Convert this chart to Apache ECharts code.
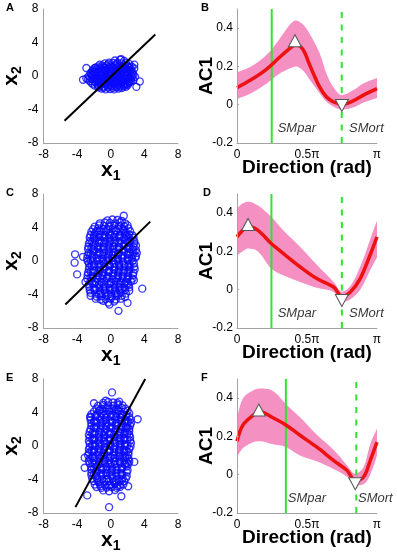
<!DOCTYPE html>
<html>
<head>
<meta charset="utf-8">
<script src="https://cdn.jsdelivr.net/npm/echarts/dist/echarts.min.js"></script>
<style>
  html, body { margin: 0; padding: 0; background: #fff; }
  #chart { width: 397px; height: 557px; }
</style>
</head>
<body>
<div id="chart"></div>
<script>
// ---- scatter clouds (x1, x2) ----
const cloudA = [
  [0.5,1.85],[1.1,1.95],[1.6,1.8],
  [-0.7,1.5],[-0.2,1.6],[0.3,1.55],[0.8,1.6],[1.3,1.5],[1.8,1.55],[2.2,1.45],
  [-1.5,1.15],[-1.0,1.25],[-0.5,1.2],[0.0,1.15],[0.5,1.25],[1.0,1.2],[1.5,1.1],[2.0,1.2],[2.5,1.1],
  [-1.8,1.0],[-1.25,0.95],[-0.75,1.0],[-0.25,1.05],[0.25,0.95],[0.75,1.0],[1.25,1.05],[1.75,0.95],[2.25,1.0],
  [-2.1,0.75],[-1.6,0.85],[-1.1,0.8],[-0.6,0.75],[-0.1,0.85],[0.4,0.8],[0.9,0.75],[1.4,0.85],[1.9,0.8],[2.4,0.75],[2.8,0.9],
  [-2.2,0.6],[-1.65,0.55],[-1.15,0.65],[-0.65,0.6],[-0.15,0.55],[0.35,0.65],[0.85,0.6],[1.35,0.55],[1.85,0.65],[2.35,0.6],
  [-2.4,0.35],[-1.9,0.45],[-1.4,0.4],[-0.9,0.35],[-0.4,0.45],[0.1,0.4],[0.6,0.35],[1.1,0.45],[1.6,0.4],[2.1,0.35],[2.6,0.45],
  [-2.3,0.2],[-1.85,0.25],[-1.35,0.15],[-0.85,0.2],[-0.35,0.25],[0.15,0.15],[0.65,0.2],[1.15,0.25],[1.65,0.15],[2.15,0.2],[2.6,0.25],
  [-2.6,0.0],[-2.1,0.05],[-1.6,-0.05],[-1.1,0.0],[-0.6,0.05],[-0.1,-0.05],[0.4,0.0],[0.9,0.05],[1.4,-0.05],[1.9,0.0],[2.4,0.05],[2.9,-0.1],
  [-2.45,-0.2],[-1.95,-0.15],[-1.45,-0.25],[-0.95,-0.2],[-0.45,-0.15],[0.05,-0.25],[0.55,-0.2],[1.05,-0.15],[1.55,-0.25],[2.05,-0.2],[2.5,-0.15],
  [-2.7,-0.4],[-2.2,-0.35],[-1.7,-0.45],[-1.2,-0.4],[-0.7,-0.35],[-0.2,-0.45],[0.3,-0.4],[0.8,-0.35],[1.3,-0.45],[1.8,-0.4],[2.3,-0.35],[2.7,-0.5],
  [-2.5,-0.6],[-1.95,-0.6],[-1.45,-0.55],[-0.95,-0.65],[-0.45,-0.6],[0.05,-0.55],[0.55,-0.65],[1.05,-0.6],[1.55,-0.55],[2.05,-0.65],[2.45,-0.6],
  [-2.3,-0.8],[-1.8,-0.75],[-1.3,-0.85],[-0.8,-0.8],[-0.3,-0.75],[0.2,-0.85],[0.7,-0.8],[1.2,-0.75],[1.7,-0.85],[2.2,-0.8],
  [-2.1,-1.0],[-1.55,-1.05],[-1.05,-0.95],[-0.55,-1.0],[-0.05,-1.05],[0.45,-0.95],[0.95,-1.0],[1.45,-1.05],[1.95,-0.95],
  [-1.9,-1.15],[-1.4,-1.2],[-0.9,-1.25],[-0.4,-1.15],[0.1,-1.2],[0.6,-1.25],[1.1,-1.15],[1.6,-1.2],[2.0,-1.1],
  [-1.5,-1.35],[-0.85,-1.4],[-0.3,-1.35],[0.25,-1.4],[0.75,-1.35],[1.3,-1.3],[1.8,-1.3],
  [-1.1,-1.5],[-0.6,-1.6],[-0.1,-1.55],[0.4,-1.6],[0.9,-1.5],[1.3,-1.45],
  [-2.9,0.95],[-3.3,-0.45],[3.45,-0.65],[3.05,-1.3],[2.8,1.35],[1.25,2.0],[-2.9,-0.3]
];
const cloudC = [
  [-0.4,4.85],[0.2,4.95],[0.8,4.9],[1.3,4.8],
  [-1.3,4.5],[-0.7,4.6],[-0.1,4.55],[0.5,4.5],[1.1,4.6],[1.7,4.5],
  [-1.9,4.1],[-1.4,4.25],[-0.8,4.2],[-0.2,4.15],[0.4,4.25],[1.0,4.2],[1.6,4.15],[2.0,4.25],
  [-2.1,3.8],[-1.5,3.9],[-0.9,3.85],[-0.3,3.8],[0.3,3.9],[0.9,3.85],[1.5,3.8],[2.1,3.9],
  [-2.3,3.5],[-1.8,3.45],[-1.2,3.55],[-0.6,3.5],[0.0,3.45],[0.6,3.55],[1.2,3.5],[1.8,3.45],[2.3,3.55],
  [-2.4,3.1],[-1.9,3.2],[-1.3,3.15],[-0.7,3.1],[-0.1,3.2],[0.5,3.15],[1.1,3.1],[1.7,3.2],[2.2,3.15],[2.6,3.05],
  [-2.5,2.8],[-2.0,2.75],[-1.4,2.85],[-0.8,2.8],[-0.2,2.75],[0.4,2.85],[1.0,2.8],[1.6,2.75],[2.1,2.85],[2.7,2.8],
  [-2.45,2.4],[-1.85,2.5],[-1.25,2.45],[-0.65,2.4],[-0.05,2.5],[0.55,2.45],[1.15,2.4],[1.75,2.5],[2.3,2.45],[2.8,2.35],
  [-2.6,2.1],[-2.0,2.05],[-1.4,2.15],[-0.8,2.1],[-0.2,2.05],[0.4,2.15],[1.0,2.1],[1.6,2.05],[2.2,2.15],[2.8,2.1],
  [-2.65,1.7],[-2.05,1.8],[-1.45,1.75],[-0.85,1.7],[-0.25,1.8],[0.35,1.75],[0.95,1.7],[1.55,1.8],[2.15,1.75],[2.7,1.7],[3.0,1.85],
  [-2.7,1.4],[-2.1,1.35],[-1.5,1.45],[-0.9,1.4],[-0.3,1.35],[0.3,1.45],[0.9,1.4],[1.5,1.35],[2.1,1.45],[2.6,1.4],[3.0,1.3],
  [-2.6,1.0],[-2.0,1.1],[-1.4,1.05],[-0.8,1.0],[-0.2,1.1],[0.4,1.05],[1.0,1.0],[1.6,1.1],[2.2,1.05],[2.7,1.0],[3.1,0.95],
  [-2.75,0.7],[-2.15,0.65],[-1.55,0.75],[-0.95,0.7],[-0.35,0.65],[0.25,0.75],[0.85,0.7],[1.45,0.65],[2.05,0.75],[2.6,0.7],[3.0,0.6],
  [-2.8,0.3],[-2.2,0.4],[-1.6,0.35],[-1.0,0.3],[-0.4,0.4],[0.2,0.35],[0.8,0.3],[1.4,0.4],[2.0,0.35],[2.5,0.3],[2.95,0.4],
  [-2.75,0.0],[-2.15,-0.05],[-1.55,0.05],[-0.95,0.0],[-0.35,-0.05],[0.25,0.05],[0.85,0.0],[1.45,-0.05],[2.05,0.05],[2.6,0.0],
  [-2.6,-0.3],[-2.0,-0.4],[-1.4,-0.35],[-0.8,-0.3],[-0.2,-0.4],[0.4,-0.35],[1.0,-0.3],[1.6,-0.4],[2.2,-0.35],[2.75,-0.3],
  [-2.55,-0.7],[-1.95,-0.65],[-1.35,-0.75],[-0.75,-0.7],[-0.15,-0.65],[0.45,-0.75],[1.05,-0.7],[1.65,-0.65],[2.25,-0.75],[2.8,-0.7],
  [-2.6,-1.0],[-2.0,-1.1],[-1.4,-1.05],[-0.8,-1.0],[-0.2,-1.1],[0.4,-1.05],[1.0,-1.0],[1.6,-1.1],[2.2,-1.05],[2.85,-1.0],
  [-2.7,-1.4],[-2.1,-1.35],[-1.5,-1.45],[-0.9,-1.4],[-0.3,-1.35],[0.3,-1.45],[0.9,-1.4],[1.5,-1.35],[2.1,-1.45],[2.7,-1.4],
  [-2.75,-1.7],[-2.15,-1.8],[-1.55,-1.75],[-0.95,-1.7],[-0.35,-1.8],[0.25,-1.75],[0.85,-1.7],[1.45,-1.8],[2.05,-1.75],[2.65,-1.7],
  [-2.8,-2.1],[-2.2,-2.05],[-1.6,-2.15],[-1.0,-2.1],[-0.4,-2.05],[0.2,-2.15],[0.8,-2.1],[1.4,-2.05],[2.0,-2.15],[2.6,-2.1],
  [-3.0,-2.5],[-2.4,-2.4],[-1.8,-2.5],[-1.2,-2.45],[-0.6,-2.4],[0.0,-2.5],[0.6,-2.45],[1.2,-2.4],[1.8,-2.5],[2.4,-2.45],[2.75,-2.3],
  [-2.6,-2.8],[-2.0,-2.75],[-1.4,-2.85],[-0.8,-2.8],[-0.2,-2.75],[0.4,-2.85],[1.0,-2.8],[1.6,-2.75],[2.1,-2.9],
  [-2.55,-3.1],[-1.95,-3.2],[-1.35,-3.15],[-0.75,-3.1],[-0.15,-3.2],[0.45,-3.15],[1.05,-3.1],[1.65,-3.2],[2.2,-3.15],
  [-2.5,-3.5],[-1.9,-3.45],[-1.3,-3.55],[-0.7,-3.5],[-0.1,-3.45],[0.5,-3.55],[1.1,-3.5],[1.7,-3.45],[2.2,-3.55],
  [-2.4,-3.8],[-1.8,-3.9],[-1.2,-3.85],[-0.6,-3.8],[0.0,-3.9],[0.6,-3.85],[1.2,-3.8],[1.8,-3.9],
  [-2.4,-4.15],[-1.7,-4.25],[-1.1,-4.2],[-0.5,-4.15],[0.1,-4.25],[0.7,-4.2],[1.3,-4.15],[1.7,-4.3],
  [-1.8,-4.5],[-1.2,-4.6],[-0.6,-4.55],[0.0,-4.5],[0.6,-4.6],[1.2,-4.5],
  [-0.9,-4.75],[-0.3,-4.95],[-0.15,-5.2],[0.4,-4.85],
  [-4.25,0.8],[-4.3,-0.2],[-4.0,-1.6],[-3.3,0.5],[3.75,-3.3],[0.92,-5.95],[2.0,-5.0],[1.55,5.4]
];
const cloudE = [
  [-0.9,5.15],[-0.3,5.25],[0.3,5.2],[0.8,5.1],
  [-1.5,4.8],[-0.9,4.9],[-0.3,4.85],[0.3,4.8],[0.9,4.9],[1.4,4.85],
  [-1.7,4.5],[-1.1,4.45],[-0.5,4.55],[0.1,4.5],[0.7,4.45],[1.3,4.55],[1.75,4.45],
  [-2.0,4.1],[-1.4,4.2],[-0.8,4.15],[-0.2,4.1],[0.4,4.2],[1.0,4.15],[1.6,4.1],[2.0,4.2],
  [-2.3,3.8],[-1.7,3.75],[-1.1,3.85],[-0.5,3.8],[0.1,3.75],[0.7,3.85],[1.3,3.8],[1.9,3.75],[2.2,3.9],
  [-2.4,3.4],[-1.8,3.5],[-1.2,3.45],[-0.6,3.4],[0.0,3.5],[0.6,3.45],[1.2,3.4],[1.8,3.5],[2.2,3.45],
  [-2.4,3.1],[-1.85,3.05],[-1.25,3.15],[-0.65,3.1],[-0.05,3.05],[0.55,3.15],[1.15,3.1],[1.75,3.05],[2.35,3.15],
  [-2.3,2.7],[-1.7,2.8],[-1.1,2.75],[-0.5,2.7],[0.1,2.8],[0.7,2.75],[1.3,2.7],[1.9,2.8],[2.4,2.75],
  [-2.3,2.4],[-1.75,2.35],[-1.15,2.45],[-0.55,2.4],[0.05,2.35],[0.65,2.45],[1.25,2.4],[1.85,2.35],[2.3,2.45],
  [-2.4,2.0],[-1.8,2.1],[-1.2,2.05],[-0.6,2.0],[0.0,2.1],[0.6,2.05],[1.2,2.0],[1.8,2.1],[2.2,2.05],
  [-2.5,1.7],[-1.9,1.65],[-1.3,1.75],[-0.7,1.7],[-0.1,1.65],[0.5,1.75],[1.1,1.7],[1.7,1.65],[2.2,1.75],
  [-2.6,1.3],[-2.0,1.4],[-1.4,1.35],[-0.8,1.3],[-0.2,1.4],[0.4,1.35],[1.0,1.3],[1.6,1.4],[2.2,1.35],
  [-2.5,1.0],[-1.95,0.95],[-1.35,1.05],[-0.75,1.0],[-0.15,0.95],[0.45,1.05],[1.05,1.0],[1.65,0.95],[2.3,1.05],
  [-2.6,0.6],[-2.0,0.7],[-1.4,0.65],[-0.8,0.6],[-0.2,0.7],[0.4,0.65],[1.0,0.6],[1.6,0.7],[2.3,0.65],
  [-2.5,0.3],[-1.9,0.25],[-1.3,0.35],[-0.7,0.3],[-0.1,0.25],[0.5,0.35],[1.1,0.3],[1.7,0.25],[2.4,0.35],
  [-2.5,-0.1],[-1.9,0.0],[-1.3,-0.05],[-0.7,-0.1],[-0.1,0.0],[0.5,-0.05],[1.1,-0.1],[1.7,0.0],[2.35,-0.05],
  [-2.6,-0.4],[-2.0,-0.45],[-1.4,-0.35],[-0.8,-0.4],[-0.2,-0.45],[0.4,-0.35],[1.0,-0.4],[1.6,-0.45],[2.2,-0.35],
  [-2.6,-0.8],[-2.0,-0.7],[-1.4,-0.75],[-0.8,-0.8],[-0.2,-0.7],[0.4,-0.75],[1.0,-0.8],[1.6,-0.7],[2.1,-0.75],
  [-2.7,-1.1],[-2.1,-1.15],[-1.5,-1.05],[-0.9,-1.1],[-0.3,-1.15],[0.3,-1.05],[0.9,-1.1],[1.5,-1.15],[2.1,-1.05],
  [-2.5,-1.5],[-1.9,-1.4],[-1.3,-1.45],[-0.7,-1.5],[-0.1,-1.4],[0.5,-1.45],[1.1,-1.5],[1.7,-1.4],[2.1,-1.5],
  [-2.6,-1.8],[-2.0,-1.75],[-1.4,-1.85],[-0.8,-1.8],[-0.2,-1.75],[0.4,-1.85],[1.0,-1.8],[1.6,-1.75],[2.2,-1.85],
  [-2.5,-2.1],[-1.9,-2.2],[-1.3,-2.15],[-0.7,-2.1],[-0.1,-2.2],[0.5,-2.15],[1.1,-2.1],[1.7,-2.2],[2.1,-2.15],
  [-2.3,-2.5],[-1.7,-2.45],[-1.1,-2.55],[-0.5,-2.5],[0.1,-2.45],[0.7,-2.55],[1.3,-2.5],[1.9,-2.45],
  [-2.3,-2.8],[-1.7,-2.9],[-1.1,-2.85],[-0.5,-2.8],[0.1,-2.9],[0.7,-2.85],[1.3,-2.8],[2.0,-2.9],
  [-2.3,-3.2],[-1.75,-3.15],[-1.15,-3.25],[-0.55,-3.2],[0.05,-3.15],[0.65,-3.25],[1.25,-3.2],[1.9,-3.15],
  [-2.3,-3.5],[-1.7,-3.6],[-1.1,-3.55],[-0.5,-3.5],[0.1,-3.6],[0.7,-3.55],[1.3,-3.5],[1.9,-3.6],
  [-2.2,-3.9],[-1.6,-3.85],[-1.0,-3.95],[-0.4,-3.9],[0.2,-3.85],[0.8,-3.95],[1.4,-3.9],[1.8,-3.85],
  [-2.0,-4.2],[-1.4,-4.3],[-0.8,-4.25],[-0.2,-4.2],[0.4,-4.3],[1.0,-4.25],[1.6,-4.2],
  [-1.9,-4.6],[-1.3,-4.55],[-0.7,-4.65],[-0.1,-4.6],[0.5,-4.55],[1.1,-4.65],[1.5,-4.6],
  [-1.7,-4.9],[-1.1,-5.0],[-0.5,-4.95],[0.1,-4.9],[0.7,-5.0],[1.1,-4.9],
  [-0.9,-5.3],[-0.2,-5.4],[0.5,-5.25],
  [0.15,6.4],[-0.2,-7.3],[-2.8,-5.9],[1.26,-6.0],[2.07,-4.8],[2.8,-1.9],[3.2,3.2],
  [-3.1,-1.4],[-3.1,-2.6],[-2.0,5.1],[-2.45,3.5],[1.0,5.3],[-0.6,5.4]
];
// extra points in the dense middle of each cloud (read where the circles merge)
const coreA = [
  [-1.3,1.35],[-0.3,1.4],[0.7,1.4],[1.7,1.3],
  [-1.9,0.95],[-0.9,1.05],[0.1,1.0],[1.1,0.95],[2.1,1.05],
  [-2.0,0.5],[-1.0,0.5],[0.0,0.6],[1.0,0.55],[2.0,0.5],
  [-2.2,0.1],[-1.2,0.1],[-0.2,0.1],[0.8,0.1],[1.8,0.1],[2.7,0.1],
  [-2.0,-0.3],[-1.0,-0.25],[0.0,-0.3],[1.0,-0.3],[2.0,-0.25],
  [-1.6,-0.7],[-0.6,-0.7],[0.4,-0.7],[1.4,-0.7],[2.3,-0.7],
  [-1.2,-1.1],[-0.2,-1.1],[0.8,-1.1],[1.7,-1.0]
];
const coreC = [
  [-1.6,3.6],[-0.5,3.7],[0.6,3.7],[1.6,3.6],
  [-2.0,3.0],[-1.0,2.95],[0.0,3.0],[1.0,2.95],[1.9,3.0],
  [-2.2,2.3],[-1.1,2.25],[-0.1,2.3],[0.9,2.25],[2.0,2.3],
  [-2.3,1.55],[-1.2,1.6],[-0.1,1.55],[1.0,1.6],[2.0,1.55],
  [-2.4,0.85],[-1.3,0.9],[-0.2,0.85],[0.9,0.9],[2.0,0.85],
  [-2.4,0.15],[-1.3,0.2],[-0.2,0.15],[0.9,0.2],[2.0,0.15],
  [-2.3,-0.55],[-1.2,-0.5],[-0.1,-0.55],[1.0,-0.5],[2.1,-0.55],
  [-2.4,-1.25],[-1.3,-1.2],[-0.2,-1.25],[0.9,-1.2],[2.0,-1.25],
  [-2.4,-1.95],[-1.3,-1.9],[-0.2,-1.95],[0.9,-1.9],[2.0,-1.95],
  [-2.2,-2.65],[-1.1,-2.6],[0.0,-2.65],[1.1,-2.6],[2.0,-2.65],
  [-1.9,-3.35],[-0.9,-3.3],[0.2,-3.35],[1.3,-3.3],
  [-1.4,-4.0],[-0.3,-4.05],[0.8,-4.0]
];
const coreE = [
  [-1.3,4.3],[-0.2,4.35],[0.9,4.3],
  [-1.8,3.6],[-0.8,3.65],[0.3,3.6],[1.4,3.65],
  [-2.0,2.9],[-0.9,2.95],[0.2,2.9],[1.3,2.95],[2.1,2.9],
  [-2.0,2.2],[-0.9,2.25],[0.2,2.2],[1.3,2.25],[2.0,2.2],
  [-2.2,1.5],[-1.1,1.55],[0.0,1.5],[1.1,1.55],[2.0,1.5],
  [-2.2,0.8],[-1.1,0.85],[0.0,0.8],[1.1,0.85],[2.0,0.8],
  [-2.2,0.1],[-1.1,0.15],[0.0,0.1],[1.1,0.15],[2.0,0.1],
  [-2.3,-0.6],[-1.2,-0.55],[-0.1,-0.6],[1.0,-0.55],[1.9,-0.6],
  [-2.2,-1.3],[-1.1,-1.25],[0.0,-1.3],[1.1,-1.25],[1.9,-1.3],
  [-2.2,-2.0],[-1.1,-1.95],[0.0,-2.0],[1.1,-1.95],[1.9,-2.0],
  [-2.0,-2.7],[-0.9,-2.65],[0.2,-2.7],[1.3,-2.65],
  [-2.0,-3.4],[-0.9,-3.35],[0.2,-3.4],[1.3,-3.35],
  [-1.6,-4.1],[-0.5,-4.05],[0.6,-4.1],[1.3,-4.05],
  [-1.2,-4.8],[-0.2,-4.75],[0.8,-4.8]
];
// black axis line through each cloud: two end points
const lineA = [[-5.5,-5.35],[5.3,4.95]];
const lineC = [[-5.4,-5.2],[4.7,4.7]];
const lineE = [[-4.2,-7.3],[4.1,8.0]];

// ---- AC1 vs direction (direction in units of pi) ----
const dirB  = [0, 0.1, 0.21, 0.3, 0.38, 0.42, 0.47, 0.52, 0.59, 0.64, 0.69, 0.75, 0.83, 0.9, 1];
const meanB = [0.089, 0.13, 0.185, 0.245, 0.295, 0.315, 0.29, 0.206, 0.093, 0.04, 0.014, 0.002, 0.02, 0.049, 0.084];
const upB   = [0.17, 0.2, 0.26, 0.34, 0.42, 0.44, 0.42, 0.37, 0.27, 0.16, 0.09, 0.05, 0.075, 0.11, 0.14];
const loB   = [0.03, 0.06, 0.11, 0.16, 0.19, 0.2, 0.18, 0.13, 0.06, 0.015, -0.01, -0.025, -0.015, 0.01, 0.035];

const dirD  = [0, 0.04, 0.08, 0.15, 0.246, 0.33, 0.45, 0.57, 0.69, 0.75, 0.81, 0.88, 0.95, 1];
const meanD = [0.276, 0.31, 0.33, 0.31, 0.24, 0.19, 0.12, 0.058, 0.014, -0.035, -0.012, 0.058, 0.18, 0.276];
const upD   = [0.425, 0.45, 0.46, 0.44, 0.38, 0.31, 0.224, 0.13, 0.04, -0.01, 0.02, 0.12, 0.26, 0.36];
const loD   = [0.18, 0.2, 0.215, 0.2, 0.11, 0.075, 0.04, 0.01, -0.012, -0.065, -0.05, 0.0, 0.1, 0.17];

const dirF  = [0, 0.043, 0.115, 0.163, 0.25, 0.349, 0.45, 0.569, 0.689, 0.785, 0.845, 0.904, 0.952, 1];
const meanF = [0.175, 0.26, 0.31, 0.33, 0.3, 0.26, 0.206, 0.145, 0.075, 0.023, -0.03, -0.012, 0.075, 0.17];
const upF   = [0.29, 0.4, 0.44, 0.45, 0.44, 0.37, 0.3, 0.21, 0.13, 0.05, 0.005, 0.04, 0.16, 0.24];
const loF   = [0.093, 0.14, 0.17, 0.175, 0.16, 0.145, 0.1, 0.07, 0.03, -0.01, -0.056, -0.05, 0.0, 0.1];

// vertical reference lines: SMpar (solid) and SMort (dashed)
const smPar = [0.248, 0.246, 0.349];
const smOrt = [0.748, 0.749, 0.852];
// max / min markers
const peaks   = [[0.414, 0.334], [0.079, 0.341], [0.156, 0.338]];
const troughs = [[0.749, -0.004], [0.749, -0.056], [0.845, -0.047]];
// text anchors for the SMpar / SMort labels
const parText = [[0.287, -0.126], [0.287, -0.126], [0.359, -0.126]];
const ortText = [[0.797, -0.126], [0.797, -0.126], [0.861, -0.126]];

const letters = ['A', 'B', 'C', 'D', 'E', 'F'];
const scatterTicks = [-8, 8, 4];
const dirTicks = { 0: '0', 0.5: '0.5\u03c0', 1: '\u03c0' };

const FONT = '"Liberation Sans", Arial, sans-serif';
const axisGray = '#a3a3a3';
const pink = '#f590c3';
const red = '#ee1111';
const green = '#2fe32f';
const blue = '#0a0aff';

const rowTop = [9, 194, 379];
const leftX = 38, rightX = 237, plotW = 140, plotH = 134;

const clouds = [cloudA, cloudC, cloudE];
const cores = [coreA, coreC, coreE];
const lines = [lineA, lineC, lineE];
const dirs = [dirB, dirD, dirF];
const means = [meanB, meanD, meanF];
const ups = [upB, upD, upF];
const los = [loB, loD, loF];

const pair = (xs, ys) => xs.map((x, i) => [x, ys[i]]);

const baseAxis = {
  type: 'value',
  z: 5,
  axisLine: { show: true, onZero: false, lineStyle: { color: axisGray, width: 1 } },
  axisTick: { show: false },
  splitLine: { show: false },
  nameMoveOverlap: false
};
const labelStyle = { color: '#000', fontFamily: FONT, fontSize: 12 };
const subRich = {
  b: { fontFamily: FONT, fontSize: 21, fontWeight: 'bold', color: '#000' },
  s: { fontFamily: FONT, fontSize: 14, fontWeight: 'bold', color: '#000', padding: [12, 0, 0, 0] }
};

const grid = [], xAxis = [], yAxis = [], series = [], title = [];

for (let r = 0; r < 3; r++) {
  const top = rowTop[r];

  // ----- left: scatter panel -----
  let gi = grid.length;
  grid.push({ left: leftX, top: top, width: plotW, height: plotH });
  xAxis.push(Object.assign({}, baseAxis, {
    gridIndex: gi, min: scatterTicks[0], max: scatterTicks[1], interval: scatterTicks[2],
    axisLabel: Object.assign({ margin: 6 }, labelStyle),
    name: '{b|x}{s|1}', nameLocation: 'middle', nameGap: 14,
    nameTextStyle: { rich: subRich }
  }));
  yAxis.push(Object.assign({}, baseAxis, {
    gridIndex: gi, min: scatterTicks[0], max: scatterTicks[1], interval: scatterTicks[2],
    axisLabel: Object.assign({ margin: 5 }, labelStyle),
    name: '{b|x}{s|2}', nameLocation: 'middle', nameGap: 19,
    nameTextStyle: { rich: subRich }
  }));
  [clouds[r], cores[r]].forEach(pts => series.push({
    type: 'scatter', xAxisIndex: gi, yAxisIndex: gi,
    data: pts, symbol: 'circle', symbolSize: 7,
    itemStyle: { color: 'rgba(0,0,0,0)', borderColor: blue, borderWidth: 1.35 },
    silent: true
  }));
  series.push({
    type: 'line', xAxisIndex: gi, yAxisIndex: gi,
    data: lines[r], symbol: 'none',
    lineStyle: { color: '#000', width: 2 }, silent: true
  });
  title.push({ text: letters[r * 2], left: 6, top: top - 7, padding: 0,
    textStyle: { fontFamily: FONT, fontSize: 11, fontWeight: 'bold', color: '#000' } });

  // ----- right: AC1 panel -----
  gi = grid.length;
  grid.push({ left: rightX, top: top, width: plotW, height: plotH });
  xAxis.push(Object.assign({}, baseAxis, {
    gridIndex: gi, min: 0, max: 1, interval: 0.5,
    axisLabel: Object.assign({ margin: 6, formatter: v => dirTicks[v] }, labelStyle),
    name: 'Direction (rad)', nameLocation: 'middle', nameGap: 15,
    nameTextStyle: { fontFamily: FONT, fontSize: 19, fontWeight: 'bold', color: '#000' }
  }));
  yAxis.push(Object.assign({}, baseAxis, {
    gridIndex: gi, min: -0.2, max: 0.5, interval: 0.2,
    axisTick: { show: true, inside: true, length: 2, lineStyle: { color: axisGray } },
    axisLabel: Object.assign({ margin: 4, showMaxLabel: false,
      formatter: v => Math.abs(v) < 1e-9 ? '0' : String(+v.toFixed(1)) }, labelStyle),
    name: 'AC1', nameLocation: 'middle', nameGap: 21,
    nameTextStyle: { fontFamily: FONT, fontSize: 19, fontWeight: 'bold', color: '#000' }
  }));
  // confidence band: pink fill under the upper edge, white fill under the lower edge
  series.push({
    type: 'line', xAxisIndex: gi, yAxisIndex: gi, data: pair(dirs[r], ups[r]),
    smooth: 0.35, symbol: 'none', lineStyle: { width: 0 },
    areaStyle: { color: pink, opacity: 1, origin: 'start' }, silent: true
  });
  series.push({
    type: 'line', xAxisIndex: gi, yAxisIndex: gi, data: pair(dirs[r], los[r]),
    smooth: 0.35, symbol: 'none', lineStyle: { width: 0 },
    areaStyle: { color: '#fff', opacity: 1, origin: 'start' }, silent: true
  });
  series.push({
    type: 'line', xAxisIndex: gi, yAxisIndex: gi,
    data: [[smPar[r], -0.2], [smPar[r], 0.5]], symbol: 'none',
    lineStyle: { color: green, width: 2 }, silent: true
  });
  series.push({
    type: 'line', xAxisIndex: gi, yAxisIndex: gi,
    data: [[smOrt[r], -0.2], [smOrt[r], 0.5]], symbol: 'none',
    lineStyle: { color: green, width: 2, type: [6, 6.5] }, silent: true
  });
  series.push({
    type: 'line', xAxisIndex: gi, yAxisIndex: gi, data: pair(dirs[r], means[r]),
    smooth: 0.35, symbol: 'none', lineStyle: { color: red, width: 3.5 }, silent: true
  });
  series.push({
    type: 'scatter', xAxisIndex: gi, yAxisIndex: gi,
    data: [
      { value: peaks[r], symbolRotate: 0 },
      { value: troughs[r], symbolRotate: 180 }
    ],
    symbol: 'triangle', symbolSize: [13, 12],
    itemStyle: { color: '#fff', borderColor: '#555', borderWidth: 1, opacity: 1 },
    silent: true, z: 4
  });
  series.push({
    type: 'scatter', xAxisIndex: gi, yAxisIndex: gi,
    data: [
      { name: 'SMpar', value: parText[r] },
      { name: 'SMort', value: ortText[r] }
    ],
    symbol: 'rect', symbolSize: 1, itemStyle: { color: 'rgba(0,0,0,0)' },
    label: { show: true, position: 'right', distance: 0, formatter: p => p.name,
      fontFamily: FONT, fontSize: 13, fontStyle: 'italic', color: '#000' },
    silent: true, z: 4
  });
  title.push({ text: letters[r * 2 + 1], left: r === 1 ? 203 : 201, top: top - 7, padding: 0,
    textStyle: { fontFamily: FONT, fontSize: 11, fontWeight: 'bold', color: '#000' } });
}

const chart = echarts.init(document.getElementById('chart'));
chart.setOption({
  animation: false,
  backgroundColor: '#fff',
  title: title,
  grid: grid,
  xAxis: xAxis,
  yAxis: yAxis,
  series: series
});
</script>
</body>
</html>
